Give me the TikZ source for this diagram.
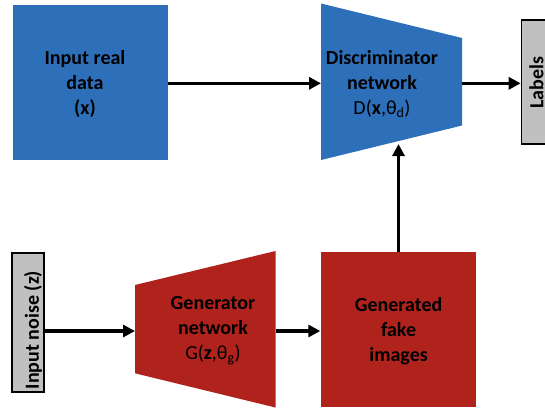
\documentclass[tikz,border=0pt]{standalone}
\usepackage{fontspec}
\setmainfont{Carlito}
\usetikzlibrary{arrows.meta}
\definecolor{gblue}{HTML}{2E6FBA}
\definecolor{gred}{HTML}{AF231C}
\definecolor{ggray}{HTML}{C0C0C0}
\begin{document}
\begin{tikzpicture}[x=1pt,y=-1pt,
  txt/.style={font=\fontsize{20}{25}\selectfont, align=center, inner sep=0pt},
  arr/.style={line width=3.2pt, -{Triangle[length=12pt,width=12pt]}},
  sidebox/.style={draw=black, line width=1.6pt, fill=ggray, inner sep=0pt},
  sq/.style={minimum width=155pt, minimum height=155pt, inner sep=0pt}]
\useasboundingbox (0,0) rectangle (545,408);
\clip (0,0) rectangle (545,408);

% input real data
\node[sq, fill=gblue] (real) at (90.5,82) {};
\node[txt] (realtxt) at (85,84) {\bfseries Input real\\\bfseries data\\\bfseries (x)};

% discriminator
\fill[gblue] (321,3.5) -- (462,38) -- (462,125.5) -- (321,160) -- cycle;
\coordinate (discW) at (321,83.3);
\coordinate (discE) at (462,83.3);
\coordinate (discS) at (398.5,144);
\node[txt] (disctxt) at (382,84) {\bfseries Discriminator\\\bfseries network\\D(\textbf{x},θ\textsubscript{d})};

% labels
\node[sidebox, minimum width=36pt, minimum height=124pt] (labels) at (539.5,82) {};
\node[txt, rotate=90] (labtxt) at (536.5,82.5) {\bfseries Labels};

% input noise
\node[sidebox, minimum width=32pt, minimum height=139.5pt] (noise) at (28.2,322.5) {};
\node[txt, rotate=90] (noisetxt) at (33,330) {\bfseries Input noise (z)};

% generator
\fill[gred] (135,285) -- (275.5,251) -- (275.5,407.5) -- (135,373.3) -- cycle;
\coordinate (genW) at (135,331);
\coordinate (genE) at (275.5,331);
\node[txt] (gentxt) at (213,331) {\bfseries Generator\\\bfseries network\\G(\textbf{z},θ\textsubscript{g})};

% generated fake images
\node[sq, fill=gred] (fake) at (398,329.5) {};
\node[txt] (faketxt) at (398.6,331) {\bfseries Generated\\\bfseries fake\\\bfseries images};

% connectors
\draw[arr] (real.east |- discW) -- (discW);
\draw[arr] (discE) -- (labels.west |- discE);
\draw[arr] (noise.east |- genW) -- (genW);
\draw[arr] (genE) -- (fake.west |- genE);
\draw[arr] (fake.north -| discS) -- (discS);
\end{tikzpicture}
\end{document}
